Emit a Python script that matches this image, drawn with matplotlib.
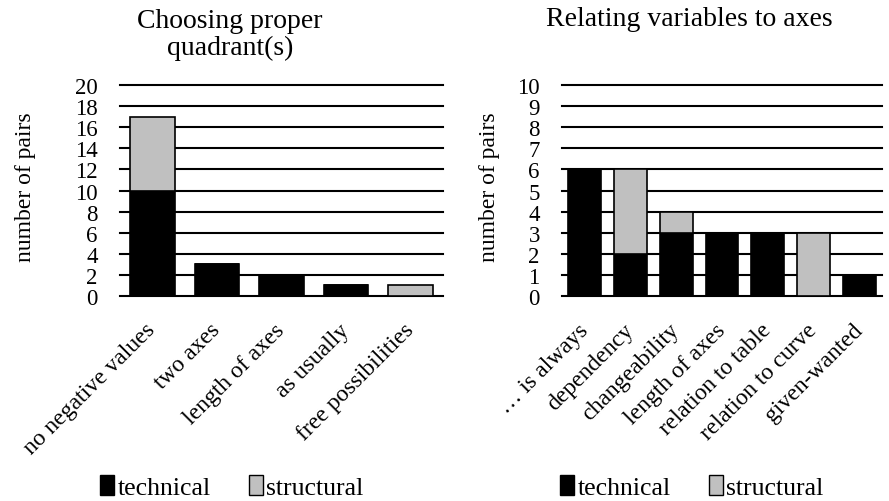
import matplotlib.pyplot as plt
from matplotlib.patches import Patch

plt.rcParams['font.family'] = ['Liberation Serif', 'DejaVu Serif']

# left panel data
left_cats = ['no negative values', 'two axes', 'length of axes', 'as usually', 'free possibilities']
left_tech = [10, 3, 2, 1, 0]
left_struct = [7, 0, 0, 0, 1]

# right panel data
right_cats = ['\u2026 is always', 'dependency', 'changeability', 'length of axes',
              'relation to table', 'relation to curve', 'given-wanted']
right_tech = [6, 2, 3, 3, 3, 0, 1]
right_struct = [0, 4, 1, 0, 0, 3, 0]

TECH_COL = 'black'
STRUCT_COL = '#c0c0c0'
W, H = 889, 502

fig = plt.figure(figsize=(8.89, 5.02), dpi=100)
ax1 = fig.add_axes([120 / W, 1 - 297 / H, 323 / W, 211 / H])
ax2 = fig.add_axes([562 / W, 1 - 297 / H, 320 / W, 211 / H])


def draw_panel(ax, cats, tech, struct, ymax, step, width):
    x = list(range(len(cats)))
    ax.bar(x, tech, width=width, color=TECH_COL, edgecolor='black', linewidth=1.2, zorder=2)
    ax.bar(x, struct, bottom=tech, width=width, color=STRUCT_COL, edgecolor='black',
           linewidth=1.2, zorder=2)
    ax.set_xlim(-0.5, len(cats) - 0.5)
    ax.set_ylim(0, ymax)
    ax.set_yticks(range(0, ymax + 1, step))
    ax.yaxis.grid(True, color='black', linewidth=1.5)
    ax.set_axisbelow(True)
    for s in ax.spines.values():
        s.set_visible(False)
    ax.tick_params(axis='y', length=0, labelsize=16.5, pad=16)
    ax.tick_params(axis='x', length=0, labelsize=17, pad=22)
    ax.set_xticks(x)
    ax.set_xticklabels(cats, rotation=45, ha='right', va='center', rotation_mode='anchor')
    for g in ax.get_ygridlines():
        g.set_clip_on(False)


draw_panel(ax1, left_cats, left_tech, left_struct, 20, 2, 0.69)
draw_panel(ax2, right_cats, right_tech, right_struct, 10, 1, 0.72)

# titles and axis labels
fig.text(230 / W, 1 - 35 / H, 'Choosing proper\nquadrant(s)', ha='center', va='center',
         fontsize=20, linespacing=1.08)
fig.text(689 / W, 1 - 20 / H, 'Relating variables to axes', ha='center', va='center', fontsize=20)
fig.text(26 / W, 1 - 187 / H, 'number of pairs', rotation=90, ha='center', va='center', fontsize=17)
fig.text(489 / W, 1 - 187 / H, 'number of pairs', rotation=90, ha='center', va='center', fontsize=17)

handles = [Patch(facecolor=TECH_COL, edgecolor='black', label='technical'),
           Patch(facecolor=STRUCT_COL, edgecolor='black', label='structural')]
for cx in [232 / W, 692 / W]:
    fig.legend(handles=handles, loc='center', bbox_to_anchor=(cx, 1 - 488 / H), ncol=2,
               frameon=False, fontsize=18.5, handlelength=0.55, handleheight=0.85,
               handletextpad=0.12, columnspacing=1.5, borderpad=0)

fig.savefig('out.png', dpi=100)
